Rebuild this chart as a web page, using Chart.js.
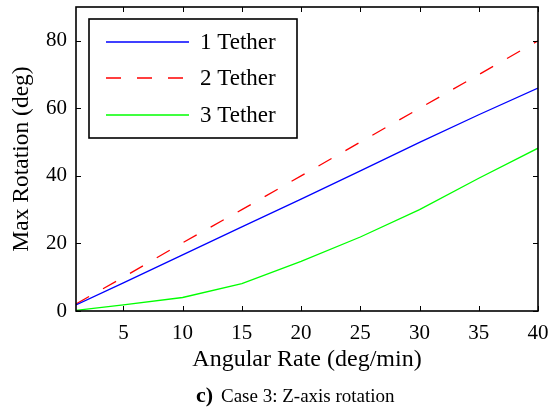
<!DOCTYPE html>
<html lang="en">
<head>
  <meta charset="UTF-8">
  <title>Case 3: Z-axis rotation</title>
  <script src="https://cdn.jsdelivr.net/npm/chart.js"></script>
  <style>
    html, body {
      margin: 0;
      padding: 0;
      background: #fff;
    }
    #wrap {
      width: 552px;
      height: 413px;
      position: relative;
    }
  </style>
</head>
<body>
  <div id="wrap"><canvas id="chart" width="552" height="413"></canvas></div>

  <script>
    // Data
    const angularRate = [1, 5, 10, 15, 20, 25, 30, 35, 40];
    const oneTether = [1.8, 8.3, 16.6, 24.9, 33.1, 41.5, 49.9, 58.1, 66];
    const twoTether = [2.1, 10, 20.2, 30, 40, 50, 60, 70, 80];
    const threeTether = [0.2, 1.8, 4.0, 8.1, 14.7, 21.9, 30.0, 39.3, 48.2];

    const xTicks = [5, 10, 15, 20, 25, 30, 35, 40];
    const yTicks = [0, 20, 40, 60, 80];

    const seriesLabels = ['1 Tether', '2 Tether', '3 Tether'];
    const seriesColors = ['#0000ff', '#ff0000', '#00ff00'];
    const captionTag = 'c)';
    const captionText = 'Case 3: Z-axis rotation';

    const SERIF = '"Liberation Serif", "DejaVu Serif", serif';

    // MATLAB-style box: inward ticks on all four sides, legend, caption
    const matlabBox = {
      id: 'matlabBox',
      afterDatasetsDraw(chart) {
        const { ctx, chartArea: a, scales } = chart;
        const len = 5;
        ctx.save();
        ctx.strokeStyle = '#000';
        ctx.lineWidth = 1;
        ctx.beginPath();
        xTicks.forEach(v => {
          const px = Math.round(scales.x.getPixelForValue(v)) + 0.5;
          ctx.moveTo(px, a.bottom); ctx.lineTo(px, a.bottom - len);
          ctx.moveTo(px, a.top); ctx.lineTo(px, a.top + len);
        });
        yTicks.forEach(v => {
          const py = Math.round(scales.y.getPixelForValue(v)) + 0.5;
          ctx.moveTo(a.left, py); ctx.lineTo(a.left + len, py);
          ctx.moveTo(a.right, py); ctx.lineTo(a.right - len, py);
        });
        ctx.stroke();

        ctx.lineWidth = 1.6;
        ctx.strokeRect(a.left, a.top, a.right - a.left, a.bottom - a.top);

        // legend
        const lx = 89, ly = 19, lw = 208, lh = 119;
        ctx.fillStyle = '#fff';
        ctx.fillRect(lx, ly, lw, lh);
        ctx.strokeStyle = '#000';
        ctx.lineWidth = 1.6;
        ctx.strokeRect(lx, ly, lw, lh);
        const rows = [42, 78, 115];
        chart.data.datasets.forEach((ds, i) => {
          ctx.beginPath();
          ctx.strokeStyle = seriesColors[i];
          ctx.lineWidth = 1.3;
          ctx.setLineDash(ds.borderDash || []);
          ctx.moveTo(106, rows[i]);
          ctx.lineTo(189, rows[i]);
          ctx.stroke();
          ctx.setLineDash([]);
          ctx.fillStyle = '#000';
          ctx.font = '23px ' + SERIF;
          ctx.textBaseline = 'middle';
          ctx.textAlign = 'left';
          ctx.fillText(ds.label, 200, rows[i] + 1);
        });

        // caption
        ctx.fillStyle = '#000';
        ctx.textBaseline = 'alphabetic';
        ctx.font = 'bold 22px ' + SERIF;
        ctx.fillText(captionTag, 196, 402);
        ctx.font = '19px ' + SERIF;
        ctx.fillText(captionText, 221, 402);
        ctx.restore();
      }
    };

    const ctx = document.getElementById('chart').getContext('2d');
    new Chart(ctx, {
      type: 'line',
      data: {
        labels: angularRate,
        datasets: [
          {
            label: seriesLabels[0],
            data: oneTether,
            borderColor: seriesColors[0],
            borderWidth: 1.3,
            pointRadius: 0,
            tension: 0
          },
          {
            label: seriesLabels[1],
            data: twoTether,
            borderColor: seriesColors[1],
            borderWidth: 1.3,
            borderDash: [15, 16],
            pointRadius: 0,
            tension: 0
          },
          {
            label: seriesLabels[2],
            data: threeTether,
            borderColor: seriesColors[2],
            borderWidth: 1.3,
            pointRadius: 0,
            tension: 0
          }
        ]
      },
      options: {
        responsive: false,
        animation: false,
        layout: {
          padding: { top: 7, right: 14, left: 0, bottom: 36 }
        },
        plugins: {
          legend: { display: false },
          tooltip: { enabled: false }
        },
        scales: {
          x: {
            type: 'linear',
            min: 1,
            max: 40,
            afterBuildTicks: s => { s.ticks = xTicks.map(v => ({ value: v })); },
            afterFit: s => { s.height = 66; s.paddingLeft = 0; s.paddingRight = 0; },
            grid: { display: false, drawTicks: false },
            border: { display: false },
            ticks: {
              color: '#000',
              font: { family: SERIF, size: 21 },
              padding: 10,
              maxRotation: 0
            },
            title: {
              display: true,
              text: 'Angular Rate (deg/min)',
              color: '#000',
              font: { family: SERIF, size: 24 },
              padding: { top: 0, bottom: 3 }
            }
          },
          y: {
            min: 0,
            max: 90,
            afterBuildTicks: s => { s.ticks = yTicks.map(v => ({ value: v })); },
            afterFit: s => { s.width = 76; s.paddingTop = 0; s.paddingBottom = 0; },
            grid: { display: false, drawTicks: false },
            border: { display: false },
            ticks: {
              color: '#000',
              font: { family: SERIF, size: 21 },
              padding: 9
            },
            title: {
              display: true,
              text: 'Max Rotation (deg)',
              color: '#000',
              font: { family: SERIF, size: 23.5 },
              padding: { top: 8, bottom: 0 }
            }
          }
        }
      },
      plugins: [matlabBox]
    });
  </script>
</body>
</html>
